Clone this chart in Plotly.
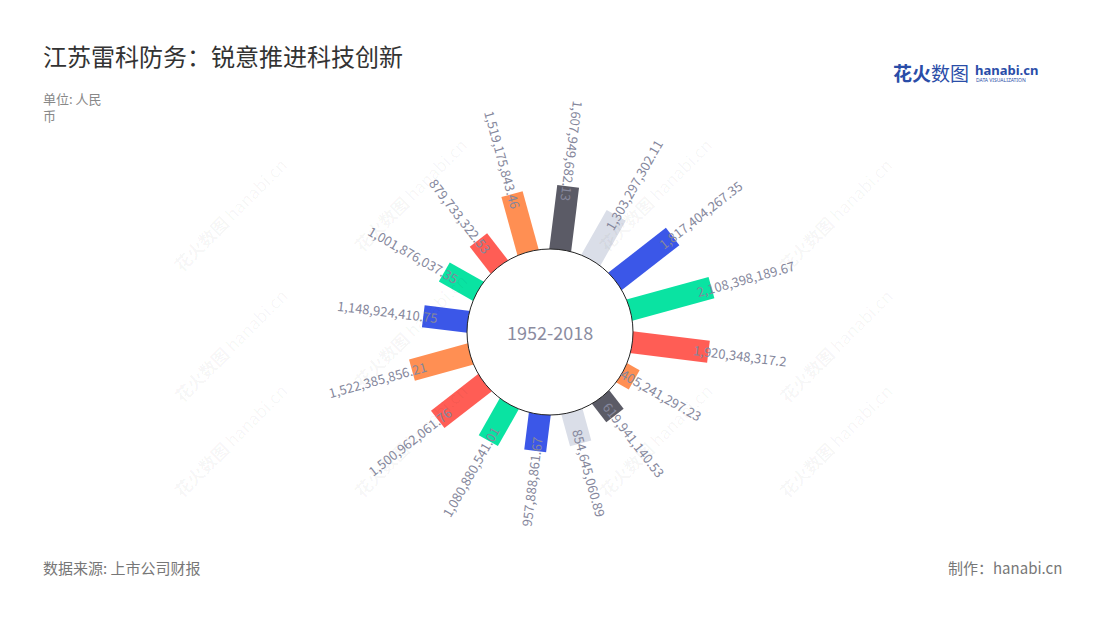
import math
import plotly.graph_objects as go

# ---------------- data ----------------
labels = ["1,607,949,682.13", "1,303,297,302.11", "1,817,404,267.35", "2,108,398,189.67",
          "1,920,348,317.2", "405,241,297.23", "619,941,140.53", "854,645,060.89",
          "957,888,861.67", "1,080,880,541.01", "1,500,962,061.76", "1,522,385,856.21",
          "1,148,924,410.75", "1,001,876,037.35", "879,733,322.53", "1,519,175,843.46"]
values = [1607949682.13, 1303297302.11, 1817404267.35, 2108398189.67,
          1920348317.2, 405241297.23, 619941140.53, 854645060.89,
          957888861.67, 1080880541.01, 1500962061.76, 1522385856.21,
          1148924410.75, 1001876037.35, 879733322.53, 1519175843.46]
DARK, LIGHT, BLUE, GREEN, RED, ORANGE = "#5b5b66", "#dadee8", "#3b57e8", "#0ae3a2", "#ff5d55", "#ff8f53"
bar_colors = [DARK, LIGHT, BLUE, GREEN, RED, ORANGE, DARK, LIGHT,
              BLUE, GREEN, RED, ORANGE, BLUE, GREEN, RED, ORANGE]
center_text = "1952-2018"
title = "江苏雷科防务：锐意推进科技创新"
unit = "单位: 人民<br>币"
source = "数据来源: 上市公司财报"
credit = "制作：hanabi.cn"

# ---------------- layout geometry ----------------
W, H = 1100, 620
OFF = 8                    # page body margin compensation
CX, CY = 550, 332          # polar centre (px, screen)
R = 200                    # polar radius (px)
HOLE = 83                  # white hole radius (px)
R0 = 80                    # px radius of value 0
K = 41.5                   # px per billion
rmin = -R0 / K
rmax = rmin + R / K
START = 7.1                # angle of first bar, deg clockwise from north
n = len(values)
step = 360 / n


def px2x(x):
    return (x - OFF) / W


def px2y(y):
    return 1 - (y - OFF) / H


fig = go.Figure()
vb = [v / 1e9 for v in values]
for i, v in enumerate(vb):
    th = i * step
    fig.add_trace(go.Scatterpolar(
        r=[-0.4, v], theta=[th, th], mode="lines",
        line=dict(color=bar_colors[i], width=22),
        hoverinfo="skip", showlegend=False))

fig.update_layout(
    width=W, height=H,
    margin=dict(l=0, r=0, t=0, b=0),
    paper_bgcolor="white", plot_bgcolor="white",
    polar=dict(
        domain=dict(x=[px2x(CX - R), px2x(CX + R)],
                    y=[px2y(CY + R), px2y(CY - R)]),
        bgcolor="rgba(0,0,0,0)",
        radialaxis=dict(range=[rmin, rmax], visible=False, showgrid=False),
        angularaxis=dict(visible=False, showgrid=False, rotation=90 - START,
                         direction="clockwise", thetaunit="degrees"),
    ),
)

# hole
fig.add_shape(type="circle", xref="paper", yref="paper",
              x0=px2x(CX - HOLE), x1=px2x(CX + HOLE),
              y0=px2y(CY + HOLE), y1=px2y(CY - HOLE),
              fillcolor="white", line=dict(color="#222", width=1), layer="above")

ann = []
# watermarks
wm_pos = [(165, 150), (410, 130), (655, 130), (900, 150),
          (165, 345), (410, 330), (900, 345),
          (165, 505), (410, 505), (655, 505), (900, 505)]
for (x, y) in wm_pos:
    ann.append(dict(x=px2x(x), y=px2y(y), xref="paper", yref="paper",
                    text="<b>花火数图</b> hanabi.cn", showarrow=False, textangle=-45,
                    font=dict(size=17, color="rgba(0,0,0,0.04)", family="Noto Sans CJK SC")))

# value labels
FS = 13
for i, (v, lab) in enumerate(zip(vb, labels)):
    ang = START + i * step
    rend = R0 + K * v
    nd = sum(c.isdigit() for c in lab)
    npct = len(lab) - nd
    L = FS * (0.55 * nd + 0.22 * npct)
    rc = rend - 13 + L / 2
    a = math.radians(ang)
    px = CX + rc * math.sin(a)
    py = CY - rc * math.cos(a)
    flip = ang < 15 or ang > 180
    ta = ang + 90 if flip else ang - 90
    while ta > 180:
        ta -= 360
    while ta <= -180:
        ta += 360
    ann.append(dict(x=px2x(px), y=px2y(py), xref="paper", yref="paper",
                    text=lab, showarrow=False, textangle=ta,
                    xanchor="center", yanchor="middle",
                    font=dict(size=FS, color="#85879c", family="Noto Sans CJK SC")))

ann += [
    dict(x=px2x(CX), y=px2y(CY), xref="paper", yref="paper", text=center_text,
         showarrow=False, font=dict(size=18, color="#8b8ca0", family="Noto Sans CJK SC"),
         xanchor="center", yanchor="middle"),
    dict(x=px2x(41), y=px2y(55), xref="paper", yref="paper", text=title,
         showarrow=False, xanchor="left", yanchor="middle",
         font=dict(size=24, color="#333333", family="Noto Sans CJK SC")),
    dict(x=px2x(41), y=px2y(87), xref="paper", yref="paper", text=unit,
         showarrow=False, xanchor="left", yanchor="top", align="left",
         font=dict(size=13, color="#888888", family="Noto Sans CJK SC")),
    dict(x=px2x(41), y=px2y(567), xref="paper", yref="paper", text=source,
         showarrow=False, xanchor="left", yanchor="middle",
         font=dict(size=15, color="#777777", family="Noto Sans CJK SC")),
    dict(x=px2x(1064), y=px2y(567), xref="paper", yref="paper", text=credit,
         showarrow=False, xanchor="right", yanchor="middle",
         font=dict(size=15, color="#777777", family="Noto Sans CJK SC")),
    dict(x=px2x(891), y=px2y(72), xref="paper", yref="paper", text="<b>花火</b>数图",
         showarrow=False, xanchor="left", yanchor="middle",
         font=dict(size=19, color="#2a4da8", family="Noto Sans CJK SC")),
    dict(x=px2x(973), y=px2y(70), xref="paper", yref="paper", text="<b>hanabi.cn</b>",
         showarrow=False, xanchor="left", yanchor="middle",
         font=dict(size=13, color="#2a4da8", family="Noto Sans")),
    dict(x=px2x(974), y=px2y(80), xref="paper", yref="paper", text="DATA VISUALIZATION",
         showarrow=False, xanchor="left", yanchor="middle",
         font=dict(size=5, color="#2a4da8", family="Noto Sans")),
]
fig.update_layout(annotations=ann)
fig.write_html("out.html")
